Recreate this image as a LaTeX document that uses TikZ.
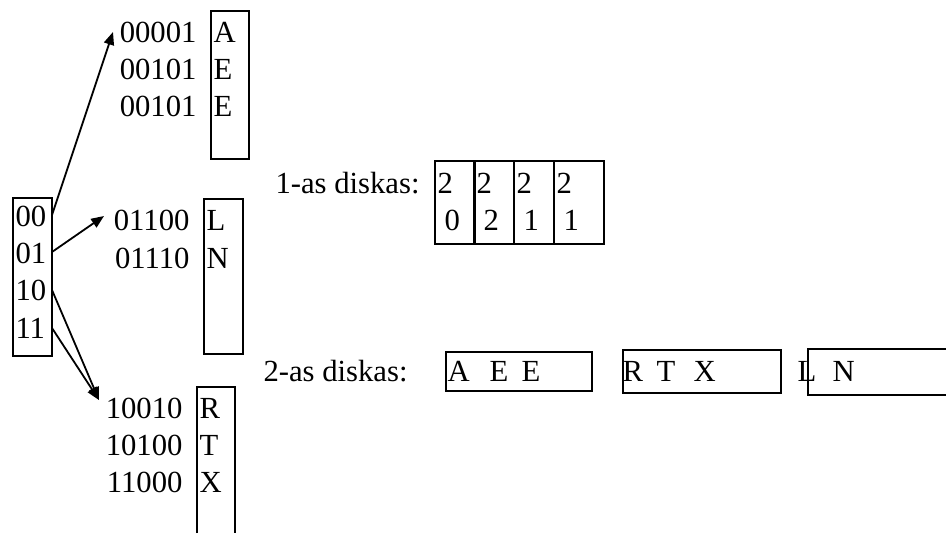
\documentclass[tikz,border=0pt]{standalone}
\usepackage{fontspec}
\setmainfont{Liberation Serif}
\usetikzlibrary{arrows.meta}
\def\u{0.391pt}
\begin{document}
\begin{tikzpicture}[x=\u, y=-\u,
  txt/.style={inner sep=0pt, anchor=base west, font=\fontsize{12}{14}\selectfont},
  rtxt/.style={txt, anchor=base east},
  boxline/.style={line width=0.9pt},
  thinbox/.style={line width=0.65pt},
  rbox/.style={draw, inner sep=0pt, anchor=north west},
  arr/.style={line width=0.7pt, -{Triangle[length=5pt,width=4pt]}}]
\useasboundingbox (0,0) rectangle (946,533);

% ---------- left directory box ----------
\node[rbox, boxline, minimum width=39*\u, minimum height=158*\u] (lbox) at (12,197) {};
\node[txt] (k00) at (15,226) {00};
\node[txt] (k01) at (15,263) {01};
\node[txt] (k10) at (15,300) {10};
\node[txt] (k11) at (15,338) {11};

% ---------- bucket A E E ----------
\node[rbox, boxline, minimum width=38*\u, minimum height=148*\u] (bA) at (210,10) {};
\node[rtxt] (n1) at (197,42) {00001};
\node[rtxt] (n2) at (197,79) {00101};
\node[rtxt] (n3) at (197,116) {00101};
\node[txt] (cA) at (213,42) {A};
\node[txt] (cE1) at (213,79) {E};
\node[txt] (cE2) at (213,116) {E};

% ---------- bucket L N ----------
\node[rbox, boxline, minimum width=39*\u, minimum height=155*\u] (bL) at (203,198) {};
\node[rtxt] (n4) at (190,230) {01100};
\node[rtxt] (n5) at (190,268) {01110};
\node[txt] (cL) at (206,230) {L};
\node[txt] (cN) at (206,268) {N};

% ---------- bucket R T X (open at bottom) ----------
\coordinate (rb1) at (197,533);
\coordinate (rt1) at (197,387);
\coordinate (rt2) at (235,387);
\coordinate (rb2) at (235,533);
\draw[boxline] (rb1) -- (rt1) -- (rt2) -- (rb2);
\node[rtxt] (n6) at (183,418) {10010};
\node[rtxt] (n7) at (183,455) {10100};
\node[rtxt] (n8) at (183,492) {11000};
\node[txt] (cR) at (199,418) {R};
\node[txt] (cT) at (199,455) {T};
\node[txt] (cX) at (199,492) {X};

% ---------- arrows ----------
\coordinate (s00) at (52,215);
\coordinate (s01) at (52,252);
\coordinate (s10) at (52,290);
\coordinate (s11) at (52,328);
\coordinate (tA) at (113,32);
\coordinate (tL) at (104,216);
\coordinate (tR) at (99,400);
\draw[arr] (s00) -- (tA);
\draw[arr] (s01) -- (tL);
\draw[arr] (s10) -- (tR);
\draw[arr] (s11) -- (tR);

% ---------- 1-as diskas ----------
\node[txt] (d1) at (275,193) {1-as diskas:};
\node[rbox, boxline, minimum width=40*\u, minimum height=83*\u] (c1) at (434,160) {};
\node[rbox, boxline, minimum width=40*\u, minimum height=83*\u] (c2) at (473,160) {};
\node[rbox, boxline, minimum width=40*\u, minimum height=83*\u] (c3) at (513,160) {};
\node[rbox, boxline, minimum width=50*\u, minimum height=83*\u] (c4) at (553,160) {};
\node[txt] (c1a) at (437,193) {2};
\node[txt] (c2a) at (476,193) {2};
\node[txt] (c3a) at (516,193) {2};
\node[txt] (c4a) at (556,193) {2};
\node[txt] (c1b) at (444,230) {0};
\node[txt] (c2b) at (483,230) {2};
\node[txt] (c3b) at (523,230) {1};
\node[txt] (c4b) at (563,230) {1};

% ---------- 2-as diskas ----------
\node[txt] (d2) at (263,381) {2-as diskas:};
\node[rbox, thinbox, minimum width=146*\u, minimum height=39*\u] (e1) at (445,351) {};
\node[txt] (e1a) at (447,381) {A};
\node[txt] (e1b) at (489,381) {E};
\node[txt] (e1c) at (521,381) {E};
\node[rbox, thinbox, minimum width=158*\u, minimum height=43*\u] (e2) at (622,349) {};
\node[txt] (e2a) at (622,381) {R};
\node[txt] (e2b) at (656,381) {T};
\node[txt] (e2c) at (693,381) {X};
\coordinate (f1) at (946,349);
\coordinate (f2) at (808,349);
\coordinate (f3) at (808,395);
\coordinate (f4) at (946,395);
\draw[boxline] (f1) -- (f2) -- (f3) -- (f4);
\node[txt] (e3a) at (797,381) {L};
\node[txt] (e3b) at (832,381) {N};
\end{tikzpicture}
\end{document}
